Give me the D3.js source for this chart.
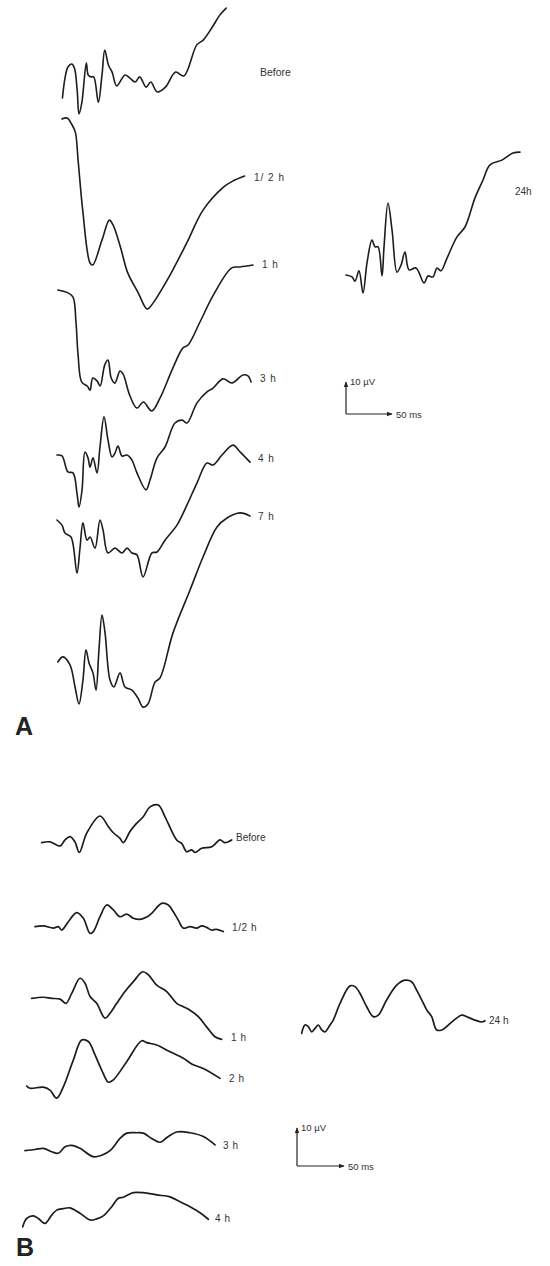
<!DOCTYPE html>
<html lang="en">
<head>
<meta charset="UTF-8" />
<title>Evoked potentials A / B</title>
<style>
  html, body { margin: 0; padding: 0; background: #fff; }
  svg { display: block; }
  .trace { fill: none; stroke: #1c1c1c; stroke-linejoin: round; stroke-linecap: round; }
  .lbl { font-family: "Liberation Sans", Arial, sans-serif; fill: #333; }
  .panel { font-family: "Liberation Sans", Arial, sans-serif; font-weight: bold; fill: #222; }
</style>
<script src="https://d3js.org/d3.v7.min.js"></script>
</head>
<body>
<div id="chart"></div>
<script>
// traces as [ms, µV], time from sweep start, µV relative to the first sample

// panel A
const aBefore = [[7,0],[10,6.6],[13,9.7],[17,10.6],[20,9.4],[23,2.5],[25,-5],[28,-1.6],[33,10.9],[35,7.2],[38,6.6],[41,6.6],[46,-1.3],[50,7.2],[53,15],[57,10.3],[61,8.1],[66,3.8],[75,7.2],[80,6.3],[86,5],[91,6.6],[98,3.4],[103,5],[110,1.9],[119,3.4],[130,8.1],[139,6.9],[153,16.6],[160,18.1],[170,22.2],[178,25.9],[185,28.1]];
const aHalf = [[6.5,0],[12,0.3],[17,-1.6],[21,-4.1],[24,-12.8],[29,-28.4],[37,-45],[40,-45.6],[50,-37.8],[58,-31.6],[62,-33.1],[70,-40],[78,-48.1],[89,-54.1],[99,-59.4],[104,-58.1],[121,-50.3],[142,-38.8],[160,-28.4],[182,-21.3],[192,-19.4],[205,-17.8]];
const a1h = [[2,0],[13,-0.9],[18.5,-2.2],[21.7,-10],[24,-20.3],[28,-28.8],[34,-30],[37,-31.3],[40,-27.5],[44.6,-28.4],[48,-30],[53,-23.4],[56.5,-21.9],[60,-27.5],[64,-29.1],[69.6,-25.3],[73,-26.3],[80,-32.8],[88,-36.9],[95,-35],[104,-37.8],[113,-33.8],[127,-24.4],[138,-18.1],[143.5,-17.2],[156.5,-10],[171,-1.6],[191,6.9],[200,7.2],[214,7.8]];
const a3h = [[1,0],[6.5,-0.3],[13,-5.3],[18.5,-5.6],[22.8,-11.9],[25,-16.3],[28.3,-10.9],[31.5,0.9],[34.8,-0.9],[37,-3.8],[40.2,-0.9],[44.6,-5.6],[47.8,2.5],[52.2,11.9],[56.5,4.7],[60.9,-0.6],[64.1,0.6],[67.4,2.8],[71.7,-0.3],[77.2,0],[82.6,-1.6],[88,-5.6],[97.8,-10.9],[102.2,-7.8],[109.8,-0.9],[118.5,2.5],[129.3,10],[137,10.9],[142.4,10],[153.3,16.3],[164.1,19.7],[170.7,20.9],[181.5,23.8],[191.3,22.5],[203.3,25],[208.7,24.7],[212,22.8]];
const a4h = [[1,0],[6.5,-1.6],[9.8,-4.1],[16.3,-5.3],[22.8,-16.6],[26,-9],[29.3,-0.9],[33.7,-6.3],[37,-5.3],[42.4,-8.8],[47.8,0],[51.1,-3.1],[56.5,-10.3],[64.1,-8.8],[71.7,-10.3],[77.2,-8.8],[82.6,-10.3],[88,-10.9],[94.6,-17.8],[104.3,-10.3],[109.8,-10],[118.5,-6.3],[131.5,-1.6],[142.4,4.7],[153.3,11.6],[164.1,17.8],[170.7,17.2],[180.4,20.3],[192.4,23.4],[200,21.3],[210.9,18.1]];
const a7h = [[2,0],[7.6,1.6],[15.2,-0.9],[20.7,-7.8],[25,-13.1],[29.3,-5.6],[32.6,3.8],[35.9,-0.3],[40.2,-3.4],[43.5,-8.8],[46.7,3.8],[50,14.7],[53.3,9.1],[58.7,-5.6],[63,-7.8],[69.6,-3.4],[75,-7.8],[82.6,-8.8],[89.1,-11.3],[94.6,-14.1],[100,-13.1],[107.6,-6.3],[113,-5],[127.2,9.1],[145.7,22.5],[159.8,32.8],[175,42.2],[185.9,45],[200,46.6],[210.9,45.6]];
const a24h = [[2.2,0],[8.7,-0.6],[12,-1.9],[16.3,1.3],[20.7,-5.6],[25,3.8],[30.4,10.9],[33.7,8.8],[37,8.8],[41.3,-0.3],[43.5,8.8],[47.8,22.5],[52.2,14.1],[57.6,0.9],[62,3.1],[66.3,7.2],[70.7,1.6],[78.3,2.2],[87,-2.5],[91.3,-0.3],[96.7,-0.6],[101.1,2.2],[105.4,1.3],[112,5.3],[122.8,11.9],[131.5,15],[142.4,24.1],[151.1,29.7],[158.7,34.4],[171.7,35.9],[183.7,38.1],[191.3,38.4]];
const labelsA = ["Before", "1/ 2 h", "1 h", "3 h", "4 h", "7 h", "24h"];

// panel B
const bBefore = [[23.1,0.1],[31.9,0.3],[42.6,-0.8],[47.9,0.8],[53.2,1.7],[58.5,0.3],[63.1,-2.5],[71,2.6],[85.1,7.1],[94,4.3],[99.3,2.7],[106.4,1.2],[109.9,0.1],[117,3],[122.3,4.7],[131.1,6.9],[138.3,9.5],[147.1,10],[154.3,6.9],[166.7,0.8],[172,-0.1],[177.3,-2.3],[182.6,-1.8],[186.2,-2.5],[193.3,-1.4],[204,-1],[212.8,0.8],[218.1,0.1],[225.2,0.8]];
const bHalf = [[16,0.1],[24.8,0.3],[35.5,-0.3],[40.8,0.1],[44.4,-0.8],[51.4,1.4],[60.3,3.8],[67.4,2.3],[74.5,-1.7],[78,-1.2],[85.1,2.7],[92.2,5.8],[99.3,4.5],[106.4,2.7],[113.5,3.4],[120.6,2.3],[127.7,2],[134.8,2.6],[140.1,3.6],[150.7,6.2],[157.8,5.8],[163.1,4],[168.4,1.8],[173.8,-0.3],[180.9,0.1],[188,-0.3],[193.3,0.3],[198.6,-0.1],[203.9,-0.8],[209.2,-0.6],[216.3,-1.2]];
const b1h = [[12.4,-0.1],[24.8,0.2],[33.7,-0.1],[42.6,-0.3],[48.9,-1.4],[55,1.2],[63.8,5.2],[69.2,3.9],[74.5,0.4],[81.6,-1.4],[90.4,-5.3],[95.8,-4],[102.9,-1.4],[111.7,1.7],[120.6,4.3],[130.6,6.9],[136.6,6.1],[145.4,3.4],[156.1,1.7],[166.7,-1.4],[173.8,-2.3],[180.9,-3.2],[189.7,-4.9],[198.6,-7.6],[207.4,-10.2],[214.5,-10.9]];
const b2h = [[7.1,0],[10.6,-0.6],[24.8,-0.3],[31.9,-1.1],[39,-3.2],[46.1,-0.2],[56.7,6.8],[65.6,12.1],[72.7,11.7],[79.8,8.2],[86.9,4.2],[94,1],[99.3,1.6],[113.5,6.4],[129.5,11.9],[134.8,11.4],[145.4,10.8],[159.6,9],[173.8,7.3],[182.6,5.8],[195,4.6],[212.8,2]];
const b3h = [[5.3,0.1],[16,0.4],[24.8,0.7],[33.7,-0.2],[40.8,-0.6],[47.9,1.1],[55,1.5],[63.8,0.7],[78,-1.5],[86.9,-1.1],[95.8,0.1],[106.4,3.3],[113.5,4.7],[124.2,4.8],[131.2,4.7],[140.1,3.3],[148.9,2.3],[156,3.5],[166.7,5],[180.9,4.8],[195,3.8],[207.5,1.6]];
const b4h = [[2.9,-1.8],[7.1,0.4],[14.2,1.1],[19.5,0.4],[26.6,-0.9],[33.7,1.3],[39,2.6],[46.1,3],[53.2,3.2],[63.8,1.8],[74.5,0],[81.6,0.3],[88.6,1.1],[97.6,3.5],[104.6,5.7],[109.9,6],[120.6,7.2],[131.2,7.2],[145.4,6.6],[159.6,6.1],[170.2,4.8],[180.9,3.5],[191.5,1.9],[200.4,0.2]];
const b24h = [[3.9,-0.1],[7.4,2.1],[10.9,1.7],[14.6,0.3],[18.1,1.2],[21.6,2.1],[25.2,0.8],[28.7,0.3],[34,2.1],[37.5,3.4],[44.7,7.8],[55.3,12.4],[60.6,12.2],[66,10.4],[73.1,6.9],[80.1,4.3],[85.4,4.7],[94.3,8.7],[105,12.6],[113.8,13.9],[120.9,13.5],[126.2,11.3],[131.6,8.7],[136.9,6.1],[142.2,4.3],[147.5,0.8],[152.9,0.8],[158.2,1.7],[167,3.6],[174.1,4.7],[181.2,4.1],[188.3,3.4],[195.5,2.9],[199,3.2]];
const labelsB = ["Before", "1/2 h", "1 h", "2 h", "3 h", "4 h", "24 h"];

// calibration bars
const calTime = 50;   // ms
const calVolt = 10;   // µV

const width = 550, height = 1266;

const svg = d3.select("#chart").append("svg")
  .attr("width", width)
  .attr("height", height);

svg.append("rect").attr("width", width).attr("height", height).attr("fill", "#fff");

const defs = svg.append("defs");
defs.append("marker")
  .attr("id", "arr")
  .attr("viewBox", "0 0 10 10")
  .attr("refX", 9).attr("refY", 5)
  .attr("markerWidth", 5).attr("markerHeight", 5)
  .attr("orient", "auto")
  .append("path")
  .attr("d", "M0,1 L10,5 L0,9 Z")
  .attr("fill", "#222");

// one panel = a set of stacked traces in a left column plus one in the right
function drawPanel(cfg) {
  const x = d3.scaleLinear().domain([0, calTime]).range([0, cfg.msPx]);
  const y = d3.scaleLinear().domain([0, calVolt]).range([0, -cfg.uvPx]);

  const line = d3.line()
    .curve(d3.curveCatmullRom.alpha(0.5))
    .x(d => x(d[0]))
    .y(d => y(d[1]));

  cfg.traces.forEach((tr, i) => {
    const pos = cfg.layout[i];
    const g = svg.append("g").attr("transform", `translate(${pos.x0},${pos.y0})`);
    g.append("path")
      .datum(tr)
      .attr("class", "trace")
      .attr("stroke-width", cfg.sw)
      .attr("d", line);

    svg.append("text")
      .attr("class", "lbl")
      .attr("x", pos.lx)
      .attr("y", pos.ly)
      .attr("font-size", pos.fs || 10)
      .attr("letter-spacing", pos.ls || 0)
      .text(cfg.labels[i]);
  });

  // calibration
  const c = cfg.cal;
  const cal = svg.append("g").attr("transform", `translate(${c.x},${c.y})`);
  cal.append("line")
    .attr("x1", 0).attr("y1", 0)
    .attr("x2", 0).attr("y2", y(calVolt))
    .attr("stroke", "#222").attr("stroke-width", 1.2)
    .attr("marker-end", "url(#arr)");
  cal.append("line")
    .attr("x1", 0).attr("y1", 0)
    .attr("x2", x(calTime)).attr("y2", 0)
    .attr("stroke", "#222").attr("stroke-width", 1.2)
    .attr("marker-end", "url(#arr)");
  cal.append("text")
    .attr("class", "lbl")
    .attr("x", 4).attr("y", y(calVolt) + 3)
    .attr("font-size", 9.5)
    .text(calVolt + " \u00b5V");
  cal.append("text")
    .attr("class", "lbl")
    .attr("x", x(calTime) + 4).attr("y", 3.5)
    .attr("font-size", 9.5)
    .text(calTime + " ms");

  svg.append("text")
    .attr("class", "panel")
    .attr("x", cfg.name.x).attr("y", cfg.name.y)
    .attr("font-size", 25)
    .text(cfg.name.text);
}

drawPanel({
  traces: [aBefore, aHalf, a1h, a3h, a4h, a7h, a24h],
  labels: labelsA,
  msPx: 46, uvPx: 32, sw: 1.6,
  layout: [
    { x0: 56, y0: 98, lx: 260, ly: 76, fs: 10.5 },
    { x0: 56, y0: 119, lx: 254, ly: 181, ls: 1 },
    { x0: 56, y0: 290, lx: 262, ly: 268, ls: 1 },
    { x0: 56, y0: 455, lx: 260, ly: 382, ls: 1 },
    { x0: 56, y0: 520, lx: 258, ly: 462, ls: 1 },
    { x0: 56, y0: 662, lx: 258, ly: 520, ls: 1 },
    { x0: 344, y0: 275, lx: 515, ly: 195 }
  ],
  cal: { x: 346, y: 414 },
  name: { text: "A", x: 15, y: 735 }
});

drawPanel({
  traces: [bBefore, bHalf, b1h, b2h, b3h, b4h, b24h],
  labels: labelsB,
  msPx: 47, uvPx: 38, sw: 1.7,
  layout: [
    { x0: 20, y0: 843, lx: 236, ly: 841 },
    { x0: 20, y0: 927, lx: 232, ly: 931, ls: 0.6 },
    { x0: 20, y0: 998, lx: 231, ly: 1041, ls: 0.6 },
    { x0: 20, y0: 1086, lx: 229, ly: 1082, ls: 0.6 },
    { x0: 20, y0: 1151, lx: 223, ly: 1149, ls: 0.6 },
    { x0: 20, y0: 1220, lx: 215, ly: 1222, ls: 0.6 },
    { x0: 298, y0: 1033, lx: 489, ly: 1024 }
  ],
  cal: { x: 297, y: 1166 },
  name: { text: "B", x: 16, y: 1256 }
});
</script>
</body>
</html>
